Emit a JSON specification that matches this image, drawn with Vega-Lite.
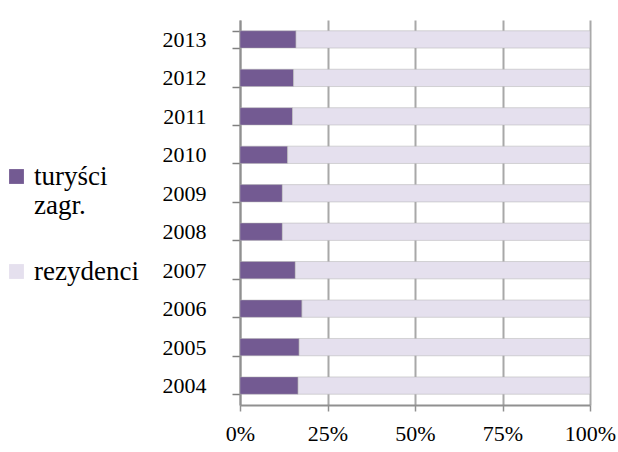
{
  "$schema": "https://vega.github.io/schema/vega-lite/v6.json",
  "autosize": "none",
  "width": 350,
  "height": 385,
  "padding": {"left": 240, "top": 20, "right": 28, "bottom": 47},
  "background": "white",
  "config": {"view": {"stroke": null}, "font": "Liberation Serif"},
  "data": {"values": [
    {"year": "2004", "group": "turyści zagr.", "value": 16.6, "o": 1},
    {"year": "2004", "group": "rezydenci", "value": 83.4, "o": 2},
    {"year": "2005", "group": "turyści zagr.", "value": 16.9, "o": 1},
    {"year": "2005", "group": "rezydenci", "value": 83.1, "o": 2},
    {"year": "2006", "group": "turyści zagr.", "value": 17.7, "o": 1},
    {"year": "2006", "group": "rezydenci", "value": 82.3, "o": 2},
    {"year": "2007", "group": "turyści zagr.", "value": 15.8, "o": 1},
    {"year": "2007", "group": "rezydenci", "value": 84.2, "o": 2},
    {"year": "2008", "group": "turyści zagr.", "value": 12.1, "o": 1},
    {"year": "2008", "group": "rezydenci", "value": 87.9, "o": 2},
    {"year": "2009", "group": "turyści zagr.", "value": 12.1, "o": 1},
    {"year": "2009", "group": "rezydenci", "value": 87.9, "o": 2},
    {"year": "2010", "group": "turyści zagr.", "value": 13.6, "o": 1},
    {"year": "2010", "group": "rezydenci", "value": 86.4, "o": 2},
    {"year": "2011", "group": "turyści zagr.", "value": 15.0, "o": 1},
    {"year": "2011", "group": "rezydenci", "value": 85.0, "o": 2},
    {"year": "2012", "group": "turyści zagr.", "value": 15.3, "o": 1},
    {"year": "2012", "group": "rezydenci", "value": 84.7, "o": 2},
    {"year": "2013", "group": "turyści zagr.", "value": 16.0, "o": 1},
    {"year": "2013", "group": "rezydenci", "value": 84.0, "o": 2}
  ]},
  "mark": {"type": "bar", "stroke": "#b0b0b0", "strokeWidth": 0.5},
  "encoding": {
    "y": {
      "field": "year", "type": "nominal", "sort": "descending",
      "scale": {"paddingInner": 0.55, "paddingOuter": 0.28},
      "axis": {
        "title": null, "labelFont": "Liberation Serif", "labelFontSize": 22,
        "labelColor": "#000000", "labelPadding": 26, "tickBand": "extent",
        "tickSize": 8, "tickColor": "#808080", "tickWidth": 1.5,
        "domainColor": "#909090", "domainWidth": 2, "grid": false
      }
    },
    "x": {
      "field": "value", "type": "quantitative", "stack": "normalize",
      "scale": {"domain": [0, 1]},
      "axis": {
        "title": null, "format": ".0%", "values": [0, 0.25, 0.5, 0.75, 1],
        "labelFont": "Liberation Serif", "labelFontSize": 22, "labelColor": "#000000",
        "labelPadding": 12, "tickSize": 6, "tickColor": "#909090", "tickWidth": 1.5,
        "domainColor": "#909090", "domainWidth": 2,
        "grid": true, "gridColor": "#a8a8a8", "gridWidth": 2,
        "labelFlush": false
      }
    },
    "color": {
      "field": "group", "type": "nominal",
      "scale": {"domain": ["turyści zagr.", "rezydenci"], "range": ["#735a92", "#e5e0ee"]},
      "legend": {
        "title": null, "orient": "none", "legendX": -237, "legendY": 143,
        "symbolType": "square", "symbolSize": 220, "symbolStrokeWidth": 0,
        "labelFont": "Liberation Serif", "labelFontSize": 27, "labelColor": "#000000",
        "labelOffset": 4,
        "labelExpr": "datum.label == 'turyści zagr.' ? ['turyści', 'zagr.'] : datum.label",
        "labelLimit": 200, "rowPadding": 38
      }
    },
    "order": {"field": "o", "type": "quantitative"}
  }
}
